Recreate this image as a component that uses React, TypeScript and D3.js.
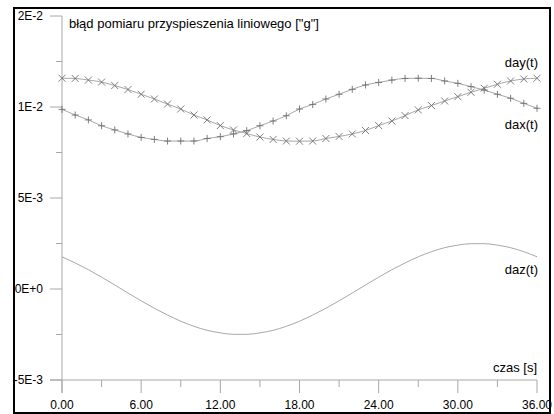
import React from "react";
import * as d3 from "d3";

const times = d3.range(0, 37);
const dax = [0.00987,0.00956,0.00929,0.00897,0.00874,0.00852,0.00833,0.00822,0.00813,0.00813,0.00813,0.00827,0.00837,0.00852,0.0087,0.00897,0.00923,0.00952,0.00989,0.01014,0.01044,0.0107,0.01097,0.01121,0.01135,0.01148,0.01157,0.01158,0.01157,0.01143,0.0113,0.01112,0.01093,0.0107,0.01048,0.0102,0.00993];
const day = [0.01158,0.01157,0.01148,0.01137,0.01118,0.01096,0.0107,0.01044,0.01016,0.00989,0.00956,0.00929,0.00898,0.00874,0.00854,0.00835,0.00822,0.00813,0.00812,0.00813,0.00827,0.00838,0.00852,0.00871,0.00898,0.00923,0.00953,0.00984,0.01008,0.01033,0.01057,0.01081,0.01103,0.01125,0.01143,0.01154,0.01158];
const daz = [0.00177,0.00143,0.00106,0.00065,0.00022,-0.00022,-0.00065,-0.00106,-0.00143,-0.00177,-0.00205,-0.00227,-0.00241,-0.00249,-0.00249,-0.00241,-0.00227,-0.00205,-0.00177,-0.00143,-0.00106,-0.00065,-0.00022,0.00022,0.00065,0.00106,0.00143,0.00177,0.00205,0.00227,0.00241,0.00249,0.00249,0.00241,0.00227,0.00205,0.00177];

const xTicks = [0, 6, 12, 18, 24, 30, 36];
const xTickLabels = ["0.00", "6.00", "12.00", "18.00", "24.00", "30.00", "36.00"];
const xMinorTicks = [3, 9, 15, 21, 27, 33];
const yTicks = [-0.005, 0, 0.005, 0.01, 0.015];
const yTickLabels = ["-5E-3", "0E+0", "5E-3", "1E-2", "2E-2"];
const yMinorTicks = [-0.0025, 0.0025, 0.0075, 0.0125];

const title = 'błąd pomiaru przyspieszenia liniowego ["g"]';
const xTitle = "czas [s]";

export default function App() {
  const W = 554, H = 414;
  const x = d3.scaleLinear().domain([0, 36]).range([62, 537]);
  const y = d3.scaleLinear().domain([-0.005, 0.015]).range([380, 16]);
  const axisColor = "#a8a8a8";
  const lineColor = "#a8a8a8";
  const markColor = "#707070";
  const font = "'Liberation Sans', Arial, sans-serif";
  const fs = 12;
  const fa = 13;

  const line = (vals: number[]) =>
    d3.line<number>().x((_, i) => x(times[i])).y((v) => y(v)).curve(d3.curveMonotoneX)(vals) || "";

  const plus = (cx: number, cy: number, k: string) => (
    <path key={k} d={`M${cx - 3.5},${cy}H${cx + 3.5}M${cx},${cy - 3.5}V${cy + 3.5}`} stroke={markColor} strokeWidth={0.9} />
  );
  const cross = (cx: number, cy: number, k: string) => (
    <path key={k} d={`M${cx - 3.5},${cy - 3.5}L${cx + 3.5},${cy + 3.5}M${cx - 3.5},${cy + 3.5}L${cx + 3.5},${cy - 3.5}`} stroke={markColor} strokeWidth={0.9} />
  );

  return (
    <div style={{ position: "absolute", left: 0, top: 0, width: W, height: H, background: "#fff" }}>
      <svg width={W} height={H} style={{ display: "block" }} fontFamily={font}>
        <rect x={0} y={0} width={W} height={H} fill="#fff" />
        {/* axes */}
        <line x1={62} x2={62} y1={y(0.015)} y2={y(-0.005) + 13} stroke={axisColor} strokeWidth={1} />
        <line x1={50} x2={537} y1={380} y2={380} stroke={axisColor} strokeWidth={1} />
        {yTicks.map((t, i) => (
          <g key={"yt" + i}>
            <line x1={50} x2={62} y1={y(t)} y2={y(t)} stroke={axisColor} />
            <text x={43} y={y(t)} dy="0.35em" textAnchor="end" fontSize={fs} fill="#000">{yTickLabels[i]}</text>
          </g>
        ))}
        {yMinorTicks.map((t, i) => (
          <line key={"ym" + i} x1={56} x2={62} y1={y(t)} y2={y(t)} stroke={axisColor} />
        ))}
        {xTicks.map((t, i) => (
          <g key={"xt" + i}>
            <line x1={x(t)} x2={x(t)} y1={380} y2={393} stroke={axisColor} />
            <text x={x(t)} y={409} textAnchor="middle" fontSize={fs} fill="#000">{xTickLabels[i]}</text>
          </g>
        ))}
        {xMinorTicks.map((t, i) => (
          <line key={"xm" + i} x1={x(t)} x2={x(t)} y1={380} y2={387} stroke={axisColor} />
        ))}
        {/* series */}
        <path d={line(dax)} fill="none" stroke={lineColor} strokeWidth={1} />
        <path d={line(day)} fill="none" stroke={lineColor} strokeWidth={1} />
        <path d={line(daz)} fill="none" stroke={lineColor} strokeWidth={1} />
        {dax.map((v, i) => plus(x(times[i]), y(v), "p" + i))}
        {day.map((v, i) => cross(x(times[i]), y(v), "c" + i))}
        {/* labels */}
        <text x={69} y={28} fontSize={fa} fill="#000">{title}</text>
        <text x={538} y={67} textAnchor="end" fontSize={fa} fill="#000">day(t)</text>
        <text x={538} y={129} textAnchor="end" fontSize={fa} fill="#000">dax(t)</text>
        <text x={538} y={274} textAnchor="end" fontSize={fa} fill="#000">daz(t)</text>
        <text x={537} y={372} textAnchor="end" fontSize={fa} fill="#000">{xTitle}</text>
        {/* frame */}
        <rect x={14} y={8} width={536} height={405} fill="none" stroke="#000" strokeWidth={2} />
      </svg>
    </div>
  );
}
